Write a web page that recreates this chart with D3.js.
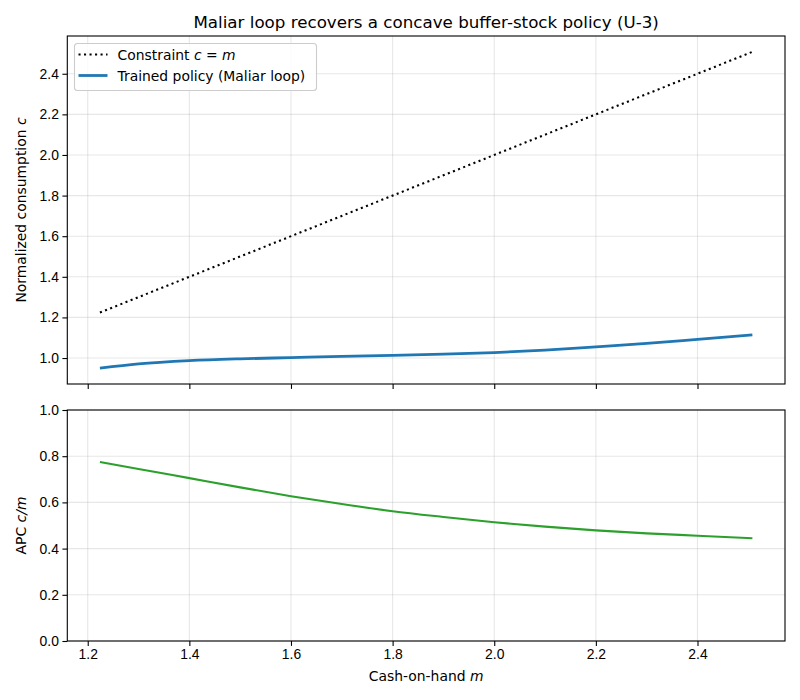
<!DOCTYPE html>
<html>
<head>
<meta charset="utf-8">
<script src="https://cdn.jsdelivr.net/npm/d3@7"></script>
<style>
  body { margin: 0; background: #fff; }
  svg { font-family: "DejaVu Sans", sans-serif; }
  .grid line { stroke: #b0b0b0; stroke-opacity: 0.3; stroke-width: 1.1; }
  .axis path, .axis line { stroke: #000; stroke-width: 1.1; }
  .axis text { font-size: 13.9px; fill: #000; }
</style>
</head>
<body>
<script>
// cash-on-hand grid and values
var mGrid = [1.224, 1.3, 1.4, 1.5, 1.6, 1.7, 1.8, 1.9, 2.0, 2.1, 2.2, 2.3, 2.4, 2.508];
var policyC = [0.950, 0.971, 0.987, 0.996, 1.002, 1.008, 1.013, 1.019, 1.027, 1.039, 1.055, 1.072, 1.092, 1.114];
var apcValues = [0.775, 0.745, 0.705, 0.665, 0.627, 0.593, 0.562, 0.537, 0.514, 0.495, 0.479, 0.466, 0.456, 0.445];
var constraintM = [1.224, 2.508];
var xTicks = [1.2, 1.4, 1.6, 1.8, 2.0, 2.2, 2.4];
var topTicks = [1.0, 1.2, 1.4, 1.6, 1.8, 2.0, 2.2, 2.4];
var botTicks = [0.0, 0.2, 0.4, 0.6, 0.8, 1.0];

var W = 800, H = 700;
var left = 67.3, right = 785;
var top1 = 36, bot1 = 384;
var top2 = 410, bot2 = 641;

var svg = d3.select("body").append("svg")
  .attr("width", W).attr("height", H);

function pad(ext) {
  var r = ext[1] - ext[0];
  return [ext[0] - 0.05 * r, ext[1] + 0.05 * r];
}

var x = d3.scaleLinear().domain(pad(d3.extent(mGrid))).range([left, right]);
var topMin = d3.min(policyC), topMax = d3.max(constraintM);
var y1 = d3.scaleLinear().domain(pad([topMin, topMax])).range([bot1, top1]);
var y2 = d3.scaleLinear().domain([0, 1]).range([bot2, top2]);

function panel(y, yt, yTop, yBot, showX) {
  var g = svg.append("g");
  // grid
  var grid = g.append("g").attr("class", "grid");
  grid.selectAll(".gx").data(xTicks).enter().append("line")
    .attr("x1", function (d) { return x(d); }).attr("x2", function (d) { return x(d); })
    .attr("y1", yTop).attr("y2", yBot);
  grid.selectAll(".gy").data(yt).enter().append("line")
    .attr("x1", left).attr("x2", right)
    .attr("y1", function (d) { return y(d); }).attr("y2", function (d) { return y(d); });

  var xa = d3.axisBottom(x).tickValues(xTicks).tickSize(4.9).tickPadding(3.5)
    .tickFormat(showX ? d3.format(".1f") : function () { return ""; });
  g.append("g").attr("class", "axis")
    .attr("transform", "translate(0," + yBot + ")")
    .call(xa).call(function (s) { s.select(".domain").remove(); });

  var ya = d3.axisLeft(y).tickValues(yt).tickSize(4.9).tickPadding(3.5).tickFormat(d3.format(".1f"));
  g.append("g").attr("class", "axis")
    .attr("transform", "translate(" + left + ",0)")
    .call(ya).call(function (s) { s.select(".domain").remove(); });
  return g;
}

function frame(yTop, yBot) {
  svg.append("rect").attr("x", left).attr("y", yTop)
    .attr("width", right - left).attr("height", yBot - yTop)
    .attr("fill", "none").attr("stroke", "#000").attr("stroke-width", 1.1);
}

panel(y1, topTicks, top1, bot1, false);
panel(y2, botTicks, top2, bot2, true);

var policyData = mGrid.map(function (m, i) { return [m, policyC[i]]; });
var apcData = mGrid.map(function (m, i) { return [m, apcValues[i]]; });

// constraint c = m
svg.append("path")
  .datum(constraintM.map(function (m) { return [m, m]; }))
  .attr("d", d3.line().x(function (d) { return x(d[0]); }).y(function (d) { return y1(d[1]); }))
  .attr("fill", "none").attr("stroke", "#000").attr("stroke-width", 2.08)
  .attr("stroke-dasharray", "2.08,3.43");

svg.append("path")
  .datum(policyData)
  .attr("d", d3.line().curve(d3.curveMonotoneX)
    .x(function (d) { return x(d[0]); }).y(function (d) { return y1(d[1]); }))
  .attr("fill", "none").attr("stroke", "#1f77b4").attr("stroke-width", 2.78);

svg.append("path")
  .datum(apcData)
  .attr("d", d3.line().curve(d3.curveMonotoneX)
    .x(function (d) { return x(d[0]); }).y(function (d) { return y2(d[1]); }))
  .attr("fill", "none").attr("stroke", "#2ca02c").attr("stroke-width", 2.08);

frame(top1, bot1);
frame(top2, bot2);

// title
svg.append("text").attr("x", (left + right) / 2).attr("y", 28)
  .attr("text-anchor", "middle").style("font-size", "16.7px")
  .text("Maliar loop recovers a concave buffer-stock policy (U-3)");

// axis labels
var xl = svg.append("text").attr("x", (left + right) / 2).attr("y", 681)
  .attr("text-anchor", "middle").style("font-size", "13.9px");
xl.append("tspan").text("Cash-on-hand ");
xl.append("tspan").style("font-style", "italic").text("m");

var yl1 = svg.append("text")
  .attr("transform", "translate(26," + (top1 + bot1) / 2 + ") rotate(-90)")
  .attr("text-anchor", "middle").style("font-size", "13.9px");
yl1.append("tspan").text("Normalized consumption ");
yl1.append("tspan").style("font-style", "italic").text("c");

var yl2 = svg.append("text")
  .attr("transform", "translate(26," + (top2 + bot2) / 2 + ") rotate(-90)")
  .attr("text-anchor", "middle").style("font-size", "13.9px");
yl2.append("tspan").text("APC ");
yl2.append("tspan").style("font-style", "italic").text("c/m");

// legend
var lg = svg.append("g").attr("transform", "translate(74.5,43.5)");
lg.append("rect").attr("width", 242).attr("height", 47).attr("rx", 3)
  .attr("fill", "#fff").attr("fill-opacity", 0.8)
  .attr("stroke", "#cccccc").attr("stroke-width", 1.1);
lg.append("line").attr("x1", 4).attr("x2", 33).attr("y1", 11).attr("y2", 11)
  .attr("stroke", "#000").attr("stroke-width", 2.08).attr("stroke-dasharray", "2.08,3.43");
lg.append("line").attr("x1", 4).attr("x2", 33).attr("y1", 32).attr("y2", 32)
  .attr("stroke", "#1f77b4").attr("stroke-width", 2.78);
var t1 = lg.append("text").attr("x", 43).attr("y", 16).style("font-size", "13.9px");
t1.append("tspan").text("Constraint ");
t1.append("tspan").style("font-style", "italic").text("c");
t1.append("tspan").text(" = ");
t1.append("tspan").style("font-style", "italic").text("m");
lg.append("text").attr("x", 43).attr("y", 37).style("font-size", "13.9px")
  .text("Trained policy (Maliar loop)");
</script>
</body>
</html>
